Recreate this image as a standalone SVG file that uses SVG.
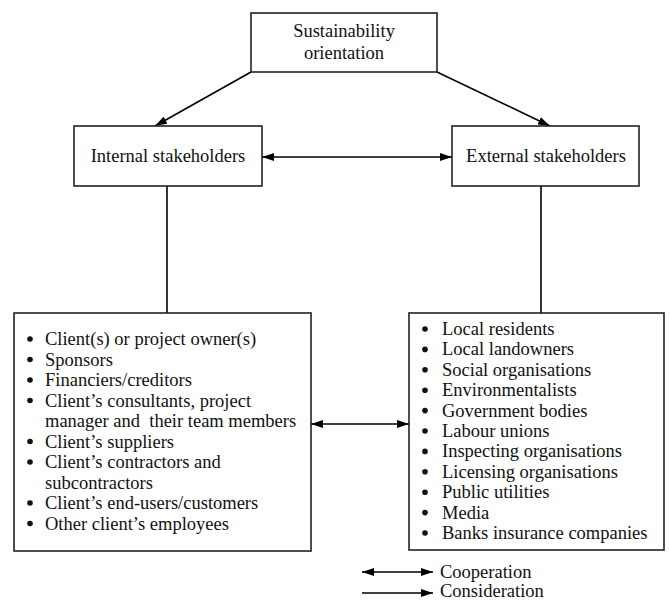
<svg xmlns="http://www.w3.org/2000/svg" width="670" height="601" viewBox="0 0 670 601">
<defs>
<marker id="ah" viewBox="0 0 12 8" refX="12" refY="4" markerWidth="12" markerHeight="8" markerUnits="userSpaceOnUse" orient="auto-start-reverse">
<path d="M0,0 L12,4 L0,8 Z" fill="#000"/>
</marker>
<style>
.box{fill:#fff;stroke:#222;stroke-width:1.6}
.t{font-family:"Liberation Serif","Times New Roman",serif;font-size:18.5px;fill:#111}
.c{text-anchor:middle}
.ln{stroke:#000;stroke-width:1.6;fill:none}
.b{fill:#111}
</style>
</defs>
<rect width="670" height="601" fill="#fff"/>
<g id="connectors">
<line class="ln" x1="251" y1="72" x2="155" y2="126" marker-end="url(#ah)"/>
<line class="ln" x1="437" y1="72" x2="550" y2="126" marker-end="url(#ah)"/>
<line class="ln" x1="262" y1="157" x2="452" y2="157" marker-start="url(#ah)" marker-end="url(#ah)"/>
<line class="ln" x1="167" y1="186" x2="167" y2="313"/>
<line class="ln" x1="541" y1="186" x2="541" y2="313"/>
<line class="ln" x1="311" y1="424" x2="409" y2="424" marker-start="url(#ah)" marker-end="url(#ah)"/>
</g>
<g id="top">
<rect class="box" x="251" y="13" width="186" height="59"/>
<text class="t c" x="344" y="37">Sustainability</text>
<text class="t c" x="344" y="59">orientation</text>
</g>
<g id="internal">
<rect class="box" x="74" y="126" width="188" height="60"/>
<text class="t c" x="168" y="162">Internal stakeholders</text>
</g>
<g id="external">
<rect class="box" x="452" y="126" width="187" height="60"/>
<text class="t c" x="546" y="162">External stakeholders</text>
</g>
<g id="internal-list">
<rect class="box" x="14" y="313" width="297" height="238"/>
<g class="b">
<circle cx="30" cy="339" r="2.8"/>
<circle cx="30" cy="359.5" r="2.8"/>
<circle cx="30" cy="380" r="2.8"/>
<circle cx="30" cy="400.5" r="2.8"/>
<circle cx="30" cy="441.5" r="2.8"/>
<circle cx="30" cy="462" r="2.8"/>
<circle cx="30" cy="503" r="2.8"/>
<circle cx="30" cy="523.5" r="2.8"/>
</g>
<text class="t" x="45" y="345">Client(s) or project owner(s)</text>
<text class="t" x="45" y="365.5">Sponsors</text>
<text class="t" x="45" y="386">Financiers/creditors</text>
<text class="t" x="45" y="406.5">Client’s consultants, project</text>
<text class="t" x="45" y="427" xml:space="preserve">manager and  their team members</text>
<text class="t" x="45" y="447.5">Client’s suppliers</text>
<text class="t" x="45" y="468">Client’s contractors and</text>
<text class="t" x="45" y="488.5">subcontractors</text>
<text class="t" x="45" y="509">Client’s end-users/customers</text>
<text class="t" x="45" y="529.5">Other client’s employees</text>
</g>
<g id="external-list">
<rect class="box" x="409" y="313" width="255" height="237"/>
<g class="b">
<circle cx="425" cy="329" r="2.8"/>
<circle cx="425" cy="349.4" r="2.8"/>
<circle cx="425" cy="369.8" r="2.8"/>
<circle cx="425" cy="390.2" r="2.8"/>
<circle cx="425" cy="410.6" r="2.8"/>
<circle cx="425" cy="431" r="2.8"/>
<circle cx="425" cy="451.4" r="2.8"/>
<circle cx="425" cy="471.8" r="2.8"/>
<circle cx="425" cy="492.2" r="2.8"/>
<circle cx="425" cy="512.6" r="2.8"/>
<circle cx="425" cy="533" r="2.8"/>
</g>
<text class="t" x="442" y="335">Local residents</text>
<text class="t" x="442" y="355.4">Local landowners</text>
<text class="t" x="442" y="375.8">Social organisations</text>
<text class="t" x="442" y="396.2">Environmentalists</text>
<text class="t" x="442" y="416.6">Government bodies</text>
<text class="t" x="442" y="437">Labour unions</text>
<text class="t" x="442" y="457.4">Inspecting organisations</text>
<text class="t" x="442" y="477.8">Licensing organisations</text>
<text class="t" x="442" y="498.2">Public utilities</text>
<text class="t" x="442" y="518.6">Media</text>
<text class="t" x="442" y="539">Banks insurance companies</text>
</g>
<g id="legend">
<line class="ln" x1="362" y1="572" x2="433" y2="572" marker-start="url(#ah)" marker-end="url(#ah)"/>
<line class="ln" x1="362" y1="593" x2="433" y2="593" marker-end="url(#ah)"/>
<text class="t" x="440" y="578">Cooperation</text>
<text class="t" x="440" y="597">Consideration</text>
</g>
</svg>
